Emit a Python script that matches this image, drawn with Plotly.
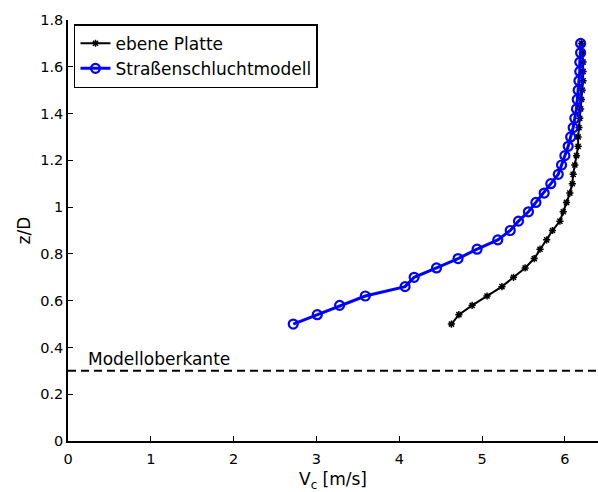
import plotly.graph_objects as go

# Heights z/D (shared by both profiles)
z_over_d = [0.50, 0.54, 0.58, 0.62, 0.66, 0.70, 0.74, 0.78, 0.82, 0.86,
            0.90, 0.94, 0.98, 1.02, 1.06, 1.10, 1.14, 1.18, 1.22, 1.26,
            1.30, 1.34, 1.38, 1.42, 1.46, 1.50, 1.54, 1.58, 1.62, 1.66, 1.70]

# ebene Platte (flat plate) velocity profile, m/s
v_platte = [4.63, 4.72, 4.88, 5.06, 5.24, 5.38, 5.52, 5.63, 5.70, 5.78,
            5.85, 5.94, 5.98, 6.02, 6.06, 6.09, 6.10, 6.12, 6.14, 6.16,
            6.16, 6.17, 6.18, 6.19, 6.20, 6.21, 6.22, 6.22, 6.22, 6.21, 6.20]

# Straßenschluchtmodell (street canyon model) velocity profile, m/s
v_schlucht = [2.72, 3.01, 3.28, 3.59, 4.07, 4.18, 4.45, 4.71, 4.94, 5.19,
              5.34, 5.44, 5.56, 5.65, 5.75, 5.83, 5.92, 5.96, 6.00, 6.04,
              6.07, 6.10, 6.12, 6.14, 6.15, 6.16, 6.17, 6.18, 6.18, 6.19, 6.19]

model_top = 0.3
model_top_label = "Modelloberkante"

x_ticks = [0, 1, 2, 3, 4, 5, 6]
y_ticks = [0, 0.2, 0.4, 0.6, 0.8, 1.0, 1.2, 1.4, 1.6, 1.8]
y_tick_text = ["0", "0.2", "0.4", "0.6", "0.8", "1", "1.2", "1.4", "1.6", "1.8"]

FONT = "DejaVu Sans"

fig = go.Figure()

fig.add_trace(go.Scatter(
    x=v_platte, y=z_over_d, mode="lines+markers", name="ebene Platte",
    line=dict(color="black", width=2),
    marker=dict(symbol="asterisk-open", size=6, color="black",
                line=dict(color="black", width=1.5)),
))
fig.add_trace(go.Scatter(
    x=v_schlucht, y=z_over_d, mode="lines+markers", name="Straßenschluchtmodell",
    line=dict(color="#0000ff", width=3),
    marker=dict(symbol="circle-open", size=9, color="#0000ff",
                line=dict(color="#0000ff", width=2.2)),
))

fig.add_hline(y=model_top, line=dict(color="black", width=2, dash="8px,5px"))
fig.add_annotation(x=0.22, y=model_top, xref="x", yref="y", text=model_top_label,
                   showarrow=False, xanchor="left", yanchor="bottom", yshift=0,
                   font=dict(family=FONT, size=17, color="black"))

axis_common = dict(
    showgrid=False, zeroline=False, showline=True, linecolor="black", linewidth=1.5,
    ticks="inside", ticklen=5, tickwidth=1, tickcolor="black", mirror=False,
    tickfont=dict(family=FONT, size=14.5, color="black"),
)

fig.update_xaxes(range=[0, 6.40], tickvals=x_ticks, ticklabelstandoff=4, **axis_common,
                 title=dict(text="V<sub>c</sub> [m/s]", standoff=13,
                            font=dict(family=FONT, size=17, color="black")))
fig.update_yaxes(range=[0, 1.8], tickvals=y_ticks, ticktext=y_tick_text, **axis_common,
                 title=dict(text="z/D", standoff=5,
                            font=dict(family=FONT, size=17, color="black")))

fig.update_layout(
    width=598, height=492,
    margin=dict(l=68, r=0, t=20, b=51),
    paper_bgcolor="white", plot_bgcolor="white",
    font=dict(family=FONT, color="black"),
    showlegend=True,
    legend=dict(x=0.0113, y=0.99, xanchor="left", yanchor="top",
                bgcolor="white", bordercolor="black", borderwidth=1.5,
                font=dict(family=FONT, size=17, color="black"),
                tracegroupgap=0, itemwidth=30),
)

fig.write_html("out.html")
